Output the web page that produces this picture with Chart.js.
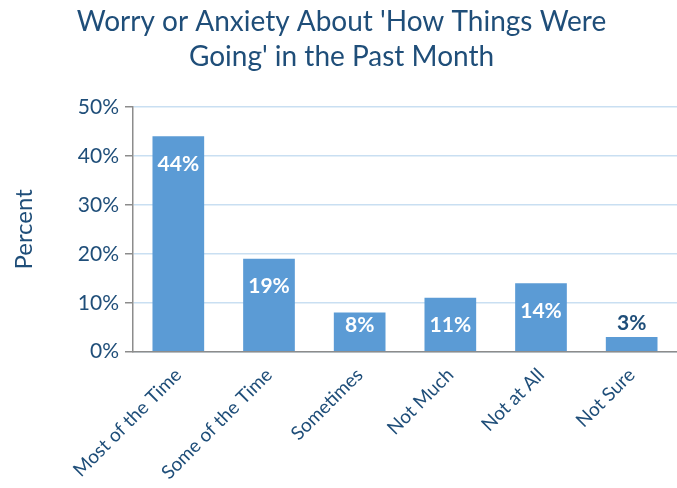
<!DOCTYPE html>
<html>
<head>
<meta charset="utf-8">
<script src="https://cdn.jsdelivr.net/npm/chart.js@4"></script>
<style>
  html, body { margin: 0; padding: 0; background: #fff; }
  #wrap { width: 677px; height: 488px; }
</style>
</head>
<body>
<div id="wrap"><canvas id="chart"></canvas></div>
<script>
const titleLines = ["Worry or Anxiety About 'How Things Were", "Going' in the Past Month"];
const categories = ['Most of the Time', 'Some of the Time', 'Sometimes', 'Not Much', 'Not at All', 'Not Sure'];
const percents = [44, 19, 8, 11, 14, 3];

const textColor = '#1F4E79';
const fontName = 'Lato, "Open Sans", sans-serif';

// labels inside the bars, or above when the bar is too short
const barLabels = {
  id: 'barLabels',
  afterDatasetsDraw(chart) {
    const ctx = chart.ctx;
    const meta = chart.getDatasetMeta(0);
    ctx.save();
    ctx.font = 'bold 21px ' + fontName;
    ctx.textAlign = 'center';
    ctx.textBaseline = 'middle';
    meta.data.forEach((bar, i) => {
      const h = bar.base - bar.y;
      if (h > 25) {
        ctx.fillStyle = '#ffffff';
        ctx.fillText(percents[i] + '%', bar.x, Math.min(bar.y + 28, bar.base - 26));
      } else {
        ctx.fillStyle = textColor;
        ctx.fillText(percents[i] + '%', bar.x, bar.y - 14);
      }
    });
    ctx.restore();
  }
};

new Chart(document.getElementById('chart'), {
  type: 'bar',
  data: {
    labels: categories,
    datasets: [{
      data: percents,
      backgroundColor: '#5B9BD5',
      borderWidth: 0,
      barPercentage: 1,
      categoryPercentage: 0.57
    }]
  },
  options: {
    responsive: true,
    maintainAspectRatio: false,
    animation: false,
    layout: { padding: { top: 4, right: 0, bottom: 0, left: 6 } },
    plugins: {
      legend: { display: false },
      tooltip: { enabled: false },
      title: {
        display: true,
        text: titleLines,
        color: textColor,
        font: { family: fontName, size: 28, weight: 'normal', lineHeight: 1.25 },
        padding: { top: 0, bottom: 33 }
      }
    },
    scales: {
      x: {
        grid: { display: false },
        border: { color: '#8C8C8C', width: 1.5 },
        ticks: {
          color: textColor,
          font: { family: fontName, size: 19 },
          maxRotation: 45,
          minRotation: 45,
          padding: 4
        }
      },
      y: {
        min: 0,
        max: 50,
        ticks: {
          stepSize: 10,
          color: textColor,
          font: { family: fontName, size: 21 },
          padding: 6,
          callback: v => v + '%'
        },
        grid: {
          color: '#C9DFF2',
          lineWidth: 1.5,
          tickColor: '#8C8C8C',
          tickLength: 8
        },
        border: { color: '#8C8C8C', width: 1.5 },
        title: {
          display: true,
          text: 'Percent',
          color: textColor,
          font: { family: fontName, size: 24 },
          padding: { bottom: 33 }
        }
      }
    }
  },
  plugins: [barLabels]
});
</script>
</body>
</html>
